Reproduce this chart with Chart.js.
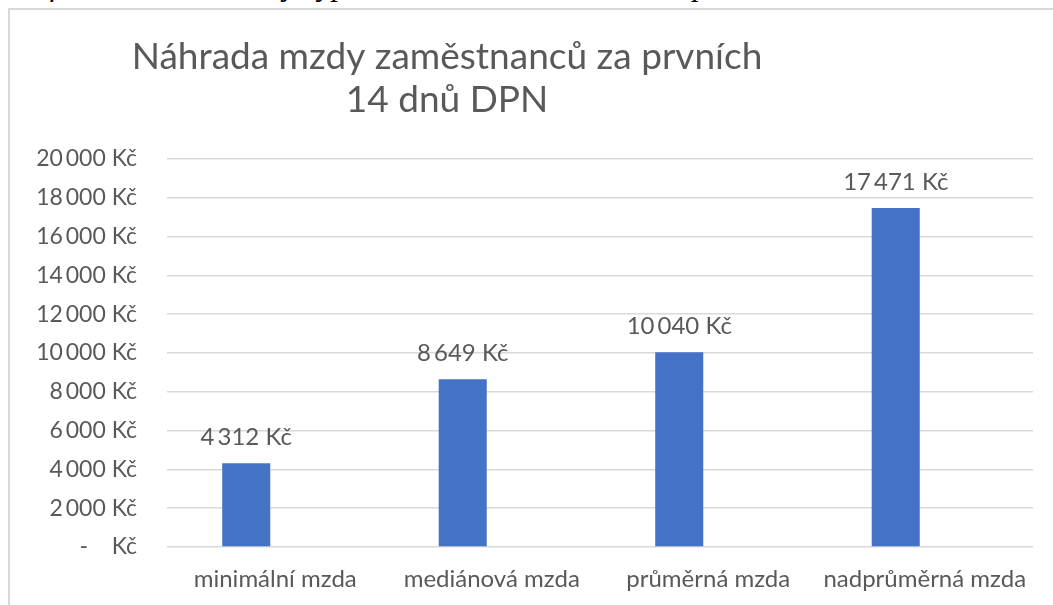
<!DOCTYPE html>
<html lang="cs">
<head>
<meta charset="utf-8">
<script src="https://cdn.jsdelivr.net/npm/chart.js@4/dist/chart.umd.min.js"></script>
<style>
  html, body { margin: 0; padding: 0; background: #fff; overflow: hidden; }
  #caption { position: absolute; left: 0; top: -30px; font: italic 31px/30px "Liberation Serif"; white-space: nowrap; color: #000; }
  #box { position: absolute; left: 8px; top: 8px; width: 1070px; height: 620px; border-left: 2px solid #d9d9d9; border-top: 2px solid #d9d9d9; }
  #wrap { position: absolute; left: 10px; top: 10px; width: 1043px; height: 595px; }
</style>
</head>
<body>
<div id="caption">Graf 10: Náhrada mzdy vyplacená zaměstnavatelem za prvních 14 dnů DPN</div>
<div id="box"></div>
<div id="wrap"><canvas id="chart"></canvas></div>
<script>
"use strict";

// data
const categories = ["minimální mzda", "mediánová mzda", "průměrná mzda", "nadprůměrná mzda"];
const values = [4312, 8649, 10040, 17471];
// the Excel chart had a second, empty series, which pushes the bars left of the labels
const emptySeries = [null, null, null, null];
const yMin = 0;
const yMax = 20000;
const yStep = 2000;
const titleLines = ["Náhrada mzdy zaměstnanců za prvních", "14 dnů DPN"];

const textColor = "#595959";
const fontFamily = "Lato, 'Open Sans', sans-serif";

// 4312 -> "4 312 Kč", 0 -> "-   Kč" like Excel's accounting format
function formatKc(n) {
  if (n === 0) return "-    Kč";
  return String(n).replace(/\B(?=(\d{3})+(?!\d))/g, "\u2009") + " Kč";
}

// title drawn by hand so it can sit left of centre like in the original
const titlePlugin = {
  id: "excelTitle",
  afterDraw(chart) {
    const ctx = chart.ctx;
    ctx.save();
    ctx.fillStyle = textColor;
    ctx.font = "37px " + fontFamily;
    ctx.textAlign = "center";
    ctx.textBaseline = "middle";
    const x = chart.width * 0.419;
    ctx.fillText(titleLines[0], x, 47);
    ctx.fillText(titleLines[1], x, 90);
    ctx.restore();
  }
};

// value labels above each bar
const valueLabels = {
  id: "valueLabels",
  afterDatasetsDraw(chart) {
    const ctx = chart.ctx;
    const meta = chart.getDatasetMeta(0);
    ctx.save();
    ctx.fillStyle = textColor;
    ctx.font = "24px " + fontFamily;
    ctx.textAlign = "center";
    ctx.textBaseline = "middle";
    meta.data.forEach((bar, i) => {
      ctx.fillText(formatKc(values[i]), bar.x, bar.y - 26);
    });
    ctx.restore();
  }
};

const chart = new Chart(document.getElementById("chart"), {
  type: "bar",
  data: {
    labels: categories,
    datasets: [{
      data: values,
      backgroundColor: "#4472C4",
      borderWidth: 0,
      categoryPercentage: 0.536,
      barPercentage: 0.828
    }, {
      data: emptySeries,
      backgroundColor: "#ED7D31",
      borderWidth: 0,
      categoryPercentage: 0.536,
      barPercentage: 0.828
    }]
  },
  options: {
    responsive: true,
    maintainAspectRatio: false,
    animation: false,
    layout: { padding: { top: 149, right: 20, bottom: 0, left: 0 } },
    plugins: {
      legend: { display: false },
      tooltip: { enabled: false }
    },
    scales: {
      x: {
        grid: { display: false, drawTicks: false },
        border: { display: false },
        ticks: {
          color: textColor,
          font: { family: fontFamily, size: 24 },
          padding: 18,
          maxRotation: 0
        },
        afterFit(scale) { scale.height = 58; }
      },
      y: {
        min: yMin,
        max: yMax,
        grid: { color: "#d9d9d9", lineWidth: 1.5, drawTicks: false },
        border: { display: false },
        ticks: {
          stepSize: yStep,
          color: textColor,
          font: { family: fontFamily, size: 23 },
          padding: 30,
          callback: (v) => formatKc(v)
        },
        afterFit(scale) { scale.width = 157; }
      }
    }
  },
  plugins: [titlePlugin, valueLabels]
});
</script>
</body>
</html>
